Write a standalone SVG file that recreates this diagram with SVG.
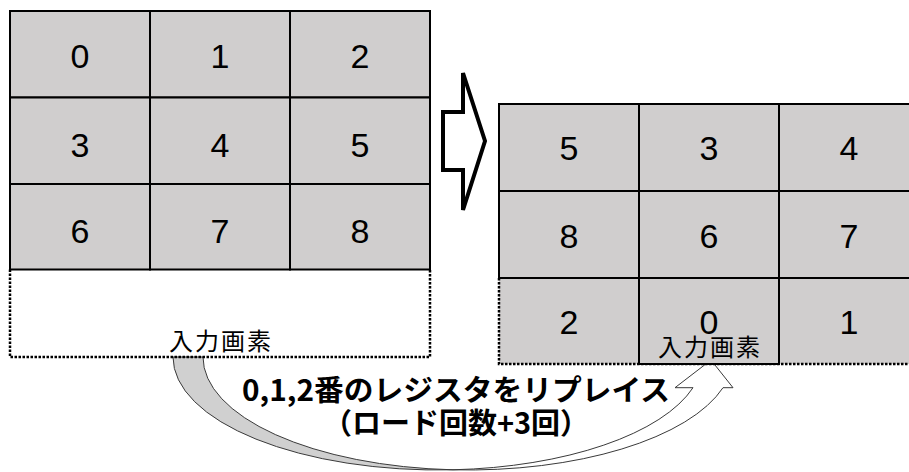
<svg xmlns="http://www.w3.org/2000/svg" width="909" height="472" viewBox="0 0 909 472">
  <style>
    .cell { fill: #d0cece; stroke: #000; stroke-width: 2; }
    .dot { fill: none; stroke: #000; stroke-width: 2.5; stroke-dasharray: 2.5 1.5; }
    .num { font-family: "Liberation Sans", "Noto Sans", sans-serif; font-size: 34px; fill: #000; text-anchor: middle; }
    .lbl { font-family: "Noto Sans CJK JP", sans-serif; font-size: 24px; letter-spacing: 2px; fill: #000; text-anchor: middle; }
    .big { font-family: "Noto Sans CJK JP", sans-serif; font-size: 29px; font-weight: bold; fill: #000; text-anchor: middle; }
    .crv { stroke: #3a3a3a; stroke-width: 1; stroke-linejoin: miter; }
  </style>
  <rect width="909" height="472" fill="#fff"/>

  <g id="connectors">
    <g id="curved-arrow">
      <path class="crv" fill="#d0d0d0" d="M173,357 A265,113 0 0 0 453,469.8 A265,113 0 0 1 203,357 Z"/>
      <path class="crv" fill="#ffffff" d="M453,469.8 A265,113 0 0 0 723,387.7 L733,387.7 L711,360 L675,387.7 L693,387.7 A265,113 0 0 1 453,469.8 Z"/>
    </g>
    <path id="block-arrow" d="M443,112 L463,112 L463,73 L485,141 L463,210 L463,170 L443,170 Z" fill="#fff" stroke="#000" stroke-width="4" stroke-linejoin="miter"/>
  </g>

  <g id="left-grid">
    <rect class="cell" x="10" y="11" width="140" height="86.5"/>
    <rect class="cell" x="150" y="11" width="140" height="86.5"/>
    <rect class="cell" x="290" y="11" width="140" height="86.5"/>
    <rect class="cell" x="10" y="97.5" width="140" height="86.5"/>
    <rect class="cell" x="150" y="97.5" width="140" height="86.5"/>
    <rect class="cell" x="290" y="97.5" width="140" height="86.5"/>
    <rect class="cell" x="10" y="184" width="140" height="85.5"/>
    <rect class="cell" x="150" y="184" width="140" height="85.5"/>
    <rect class="cell" x="290" y="184" width="140" height="85.5"/>
    <text class="num" x="80" y="68">0</text>
    <text class="num" x="220" y="68">1</text>
    <text class="num" x="360" y="68">2</text>
    <text class="num" x="80" y="157">3</text>
    <text class="num" x="220" y="157">4</text>
    <text class="num" x="360" y="157">5</text>
    <text class="num" x="80" y="243">6</text>
    <text class="num" x="220" y="243">7</text>
    <text class="num" x="360" y="243">8</text>
  </g>

  <g id="left-input">
    <path class="dot" d="M10,269.5 L10,357 L430,357 L430,269.5"/>
    <text class="lbl" x="221" y="350">入力画素</text>
  </g>

  <g id="right-grid">
    <rect class="cell" x="499" y="104" width="140" height="87"/>
    <rect class="cell" x="639" y="104" width="140" height="87"/>
    <rect class="cell" x="779" y="104" width="140" height="87"/>
    <rect class="cell" x="499" y="191" width="140" height="87"/>
    <rect class="cell" x="639" y="191" width="140" height="87"/>
    <rect class="cell" x="779" y="191" width="140" height="87"/>
    <rect x="499" y="278" width="420" height="86" fill="#d0cece"/>
    <path class="dot" d="M499,278 L499,364 L919,364"/>
    <rect class="cell" x="639" y="278" width="140" height="86"/>
    <line x1="499" y1="278" x2="919" y2="278" stroke="#000" stroke-width="2"/>
    <text class="num" x="569" y="160">5</text>
    <text class="num" x="709" y="160">3</text>
    <text class="num" x="849" y="160">4</text>
    <text class="num" x="569" y="248">8</text>
    <text class="num" x="709" y="248">6</text>
    <text class="num" x="849" y="248">7</text>
    <text class="num" x="569" y="334">2</text>
    <text class="num" x="709" y="334">0</text>
    <text class="num" x="849" y="334">1</text>
    <text class="lbl" x="710" y="356">入力画素</text>
  </g>

  <g id="caption">
    <text class="big" x="456" y="401" textLength="428" lengthAdjust="spacingAndGlyphs">0,1,2番のレジスタをリプレイス</text>
    <text class="big" x="456" y="434">（ロード回数+3回）</text>
  </g>
</svg>
